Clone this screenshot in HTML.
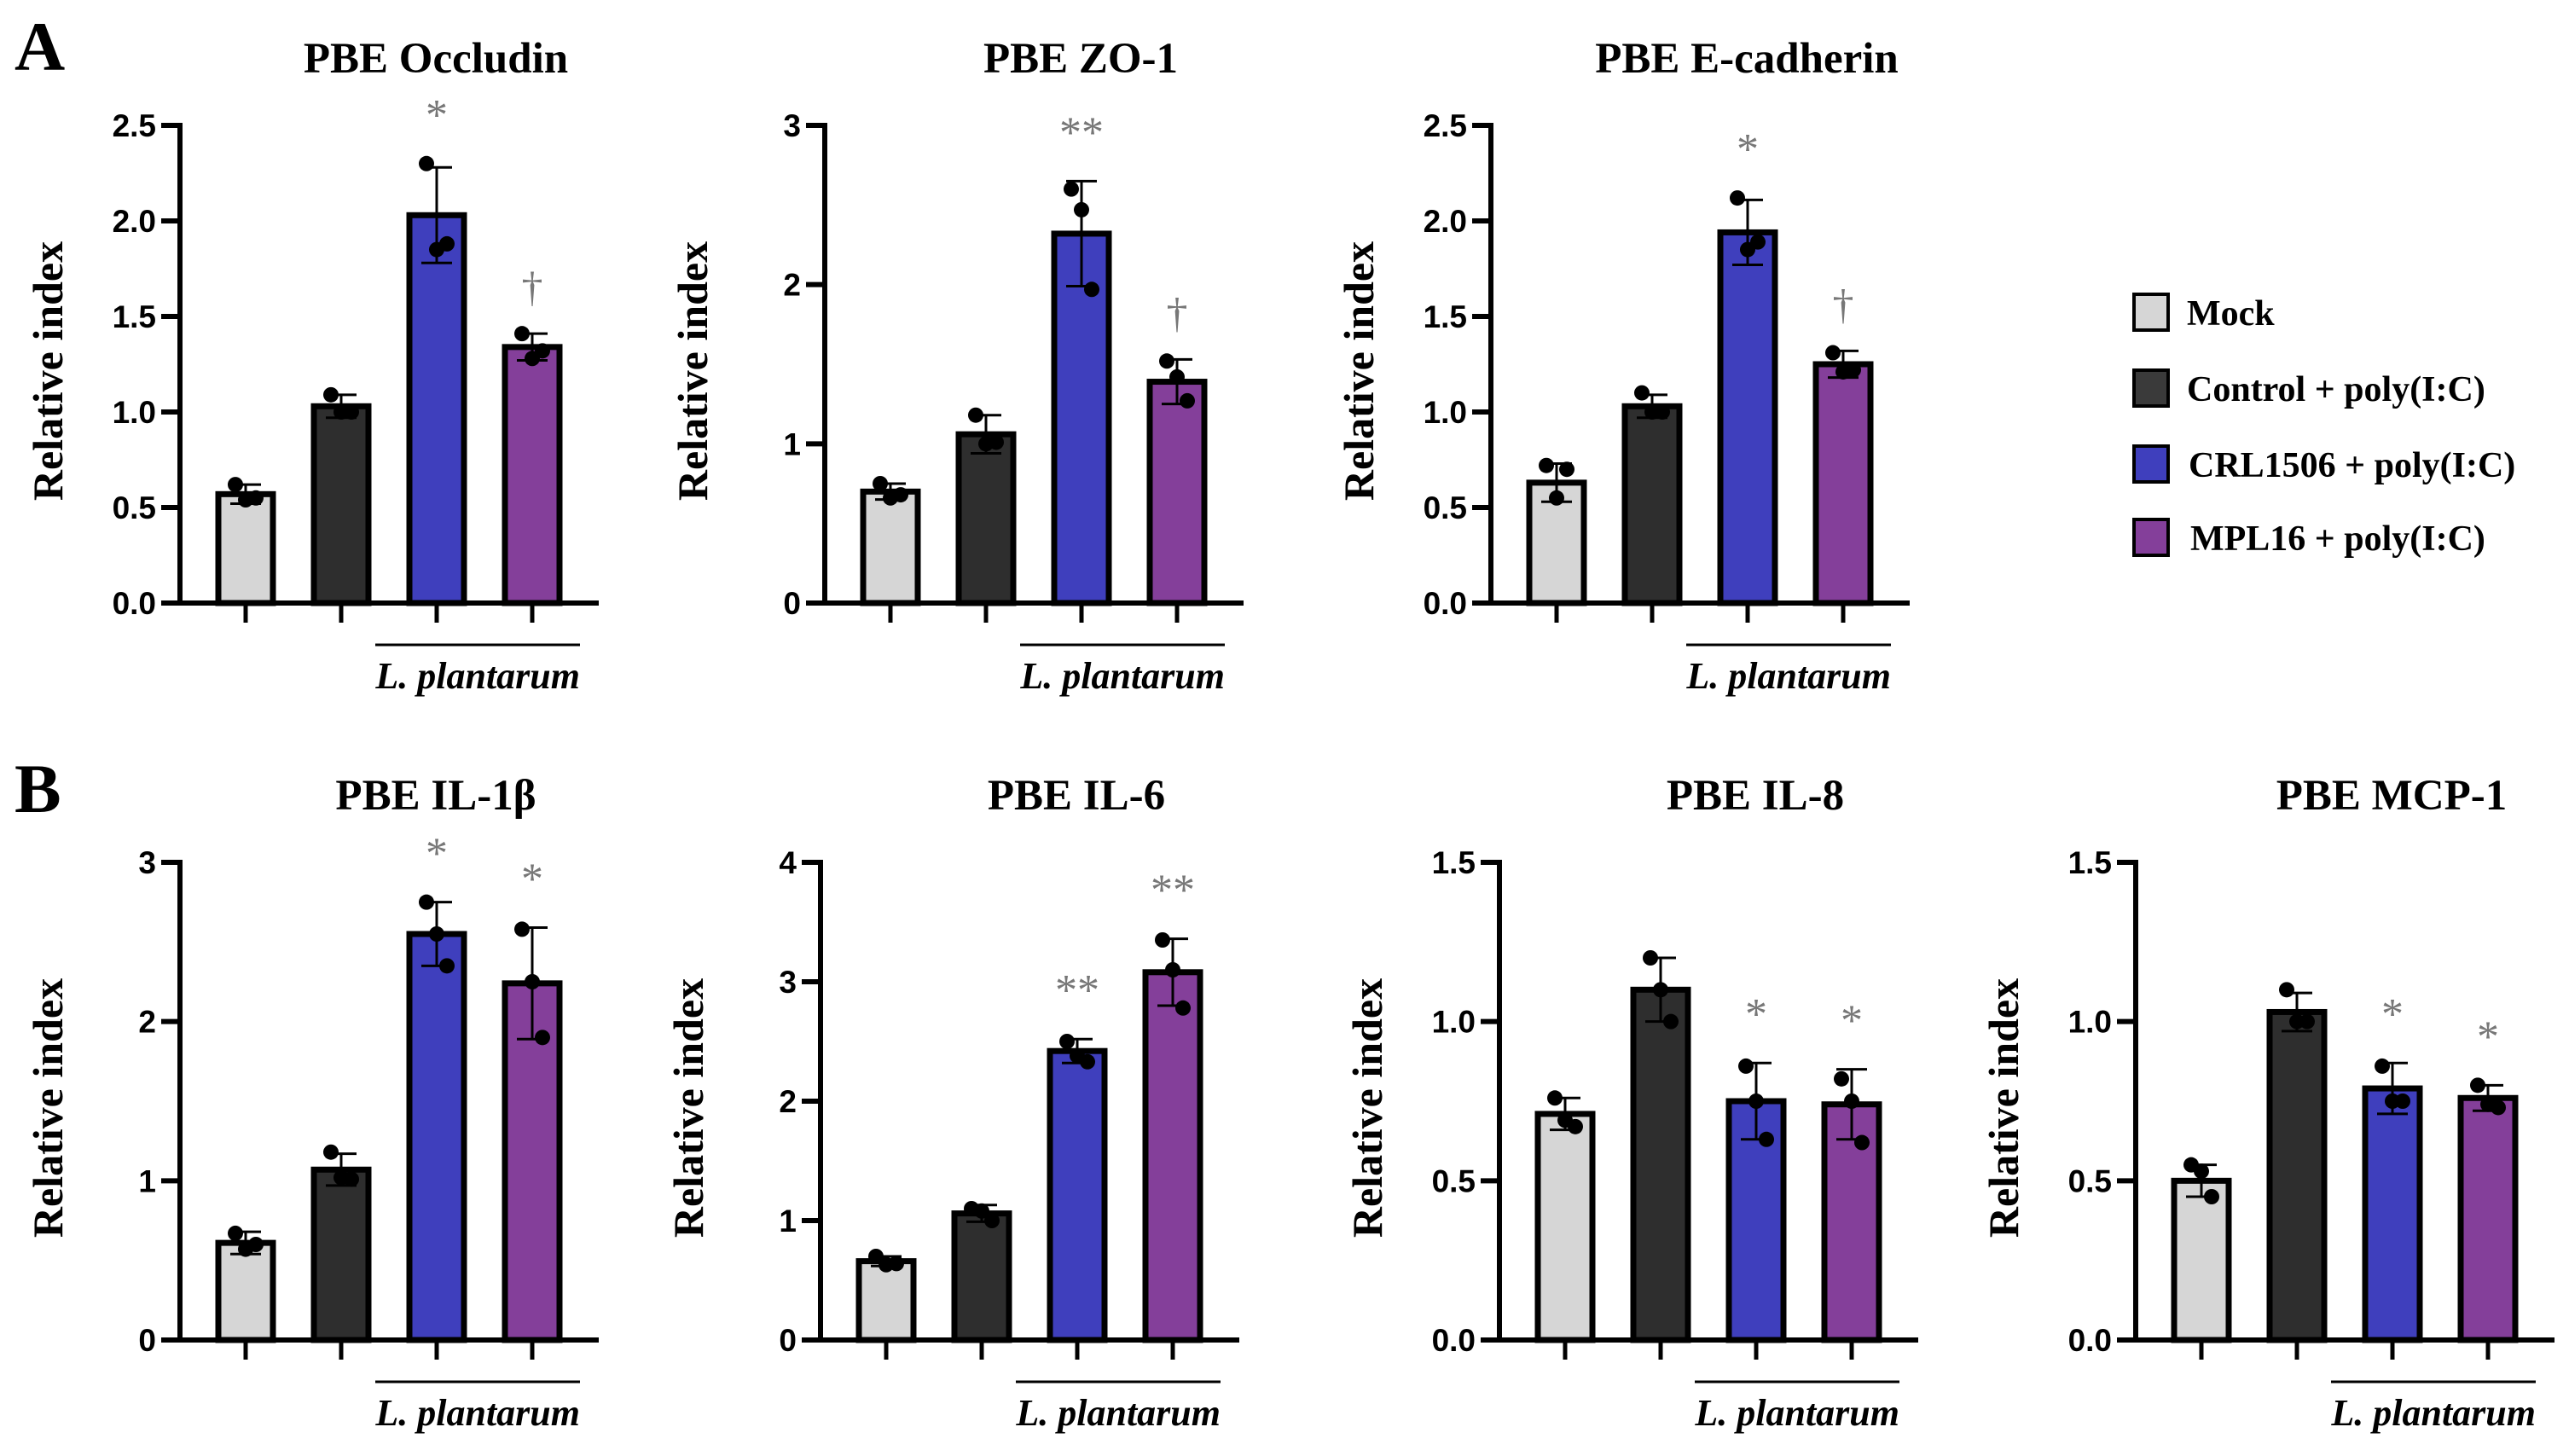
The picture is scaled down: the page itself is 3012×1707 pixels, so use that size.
<!DOCTYPE html>
<html><head><meta charset="utf-8"><style>
html,body{margin:0;padding:0;background:#fff;}
svg{display:block;}
</style></head><body>
<svg id="fig" width="3012" height="1707" viewBox="0 0 3012 1707" xmlns="http://www.w3.org/2000/svg">
<text x="17" y="82" font-family="'Liberation Serif', serif" font-weight="bold" font-size="82">A</text>
<text x="17" y="952" font-family="'Liberation Serif', serif" font-weight="bold" font-size="82">B</text>
<g>
<rect x="2502" y="345" width="40" height="42" fill="#d6d6d6" stroke="#000" stroke-width="4"/>
<text x="2564" y="381" font-family="'Liberation Serif', serif" font-weight="bold" font-size="42">Mock</text>
<rect x="2502" y="434" width="40" height="42" fill="#3a3a3a" stroke="#000" stroke-width="4"/>
<text x="2564" y="470" font-family="'Liberation Serif', serif" font-weight="bold" font-size="42">Control + poly(I:C)</text>
<rect x="2502" y="523" width="40" height="42" fill="#3f3fbd" stroke="#000" stroke-width="4"/>
<text x="2566" y="559" font-family="'Liberation Serif', serif" font-weight="bold" font-size="42">CRL1506 + poly(I:C)</text>
<rect x="2502" y="609" width="40" height="42" fill="#843f9a" stroke="#000" stroke-width="4"/>
<text x="2568" y="645" font-family="'Liberation Serif', serif" font-weight="bold" font-size="42">MPL16 + poly(I:C)</text>
</g>
</svg>
<script>
const titles = ["PBE Occludin","PBE ZO-1","PBE E-cadherin","PBE IL-1β","PBE IL-6","PBE IL-8","PBE MCP-1"];
const yMax = [2.5,3,2.5,3,4,1.5,1.5];
const yStep = [0.5,1,0.5,1,1,0.5,0.5];
const yDecimals = [1,0,1,0,0,1,1];
const means = [[0.57,1.03,2.03,1.34],[0.70,1.06,2.32,1.39],[0.63,1.03,1.94,1.25],[0.61,1.07,2.55,2.24],[0.66,1.06,2.42,3.08],[0.71,1.10,0.75,0.74],[0.50,1.03,0.79,0.76]];
const sds = [[0.05,0.06,0.25,0.07],[0.05,0.12,0.33,0.14],[0.10,0.06,0.17,0.07],[0.07,0.10,0.20,0.35],[0.04,0.07,0.10,0.28],[0.05,0.10,0.12,0.11],[0.05,0.06,0.08,0.04]];
const points = [
 [[0.62,0.54,0.55],[1.09,1.00,1.00],[2.30,1.85,1.88],[1.41,1.28,1.32]],
 [[0.75,0.66,0.68],[1.18,1.00,1.01],[2.60,2.47,1.97],[1.52,1.42,1.27]],
 [[0.72,0.55,0.70],[1.10,1.00,1.00],[2.12,1.85,1.89],[1.31,1.21,1.22]],
 [[0.67,0.57,0.60],[1.18,1.02,1.01],[2.75,2.55,2.35],[2.58,2.25,1.90]],
 [[0.70,0.63,0.64],[1.10,1.08,1.00],[2.50,2.38,2.33],[3.35,3.10,2.78]],
 [[0.76,0.69,0.67],[1.20,1.10,1.00],[0.86,0.75,0.63],[0.82,0.75,0.62]],
 [[0.55,0.53,0.45],[1.10,1.00,1.00],[0.86,0.75,0.75],[0.80,0.74,0.73]]];
const marks = [["","","*","†"],["","","**","†"],["","","*","†"],["","","*","*"],["","","**","**"],["","","*","*"],["","","*","*"]];
const colors = ["#d6d6d6","#2e2e2e","#3f3fbd","#843f9a"];
const layout = [[211,707],[967,707],[1748,707],[211,1571],[962,1571],[1758,1571],[2504,1571]];
const NS="http://www.w3.org/2000/svg";
const svg=document.getElementById('fig');
const SERIF="'Liberation Serif', serif", SANS="'Liberation Sans', sans-serif";
function mk(tag,attrs,parent){const e=document.createElementNS(NS,tag);for(const k in attrs)e.setAttribute(k,attrs[k]);(parent||svg).appendChild(e);return e;}
titles.forEach((t,p)=>{
  const ax=layout[p][0], base=layout[p][1], top=base-560, H=560;
  const g=mk('g',{});
  
  
  const y=v=>base-v/yMax[p]*H;
  const xc=i=>ax+77+112*i;
  const tt=mk('text',{x:ax+300,y:base-622,'text-anchor':'middle','font-family':SERIF,'font-weight':'bold','font-size':51},g);
  tt.textContent=t;
  
  
  const yl=mk('text',{x:0,y:0,transform:`translate(${ax-138},${base-272}) rotate(-90)`,'text-anchor':'middle','font-family':SERIF,'font-weight':'bold','font-size':50},g);
  yl.textContent='Relative index';
  
  
  for(let v=0;v<=yMax[p]+1e-9;v+=yStep[p]){
    const tk=mk('line',{x1:ax-22,x2:ax,y1:y(v),y2:y(v),stroke:'#000','stroke-width':6},g);
    
    
    const tl=mk('text',{x:ax-28,y:y(v)+13,'text-anchor':'end','font-family':SANS,'font-weight':'bold','font-size':37},g);
    tl.textContent=v.toFixed(yDecimals[p]);
    
    
  }
  means[p].forEach((m,i)=>{
    const b=mk('rect',{x:xc(i)-32,y:y(m),width:64,height:base-y(m),fill:colors[i],stroke:'#000','stroke-width':7},g);
    
    
    const e=mk('path',{d:`M${xc(i)} ${y(m-sds[p][i])}V${y(m+sds[p][i])}M${xc(i)-18} ${y(m+sds[p][i])}H${xc(i)+18}M${xc(i)-18} ${y(m-sds[p][i])}H${xc(i)+18}`,stroke:'#000','stroke-width':3,fill:'none'},g);
    
    
    const offs=[-12,0,12];
    points[p][i].forEach((v,j)=>{
      const c=mk('circle',{cx:xc(i)+offs[j],cy:y(v),r:9,fill:'#000'},g);
      
      
    });
    if(marks[p][i]){
      const topv=Math.max(m+sds[p][i],...points[p][i]);
      const s=mk('text',{x:xc(i),y:y(topv)-(marks[p][i]==='†'?38:40),'text-anchor':'middle','font-family':SERIF,'font-size':marks[p][i]==='†'?50:52,fill:'#777'},g);
      s.textContent=marks[p][i];
      
      
    }
    const xt=mk('line',{x1:xc(i),x2:xc(i),y1:base,y2:base+23,stroke:'#000','stroke-width':5},g);
    
    
  });
  const axes=mk('path',{d:`M${ax} ${top-3}V${base}H${ax+491}`,stroke:'#000','stroke-width':6,fill:'none'},g);
  
  
  const gl=mk('line',{x1:xc(2)-72,x2:ax+469,y1:base+49,y2:base+49,stroke:'#000','stroke-width':3},g);
  
  
  const lp=mk('text',{x:ax+469,y:base+100,'text-anchor':'end','font-family':SERIF,'font-weight':'bold','font-style':'italic','font-size':44},g);
  lp.textContent='L. plantarum';
  
  
});
</script>
</body></html>
